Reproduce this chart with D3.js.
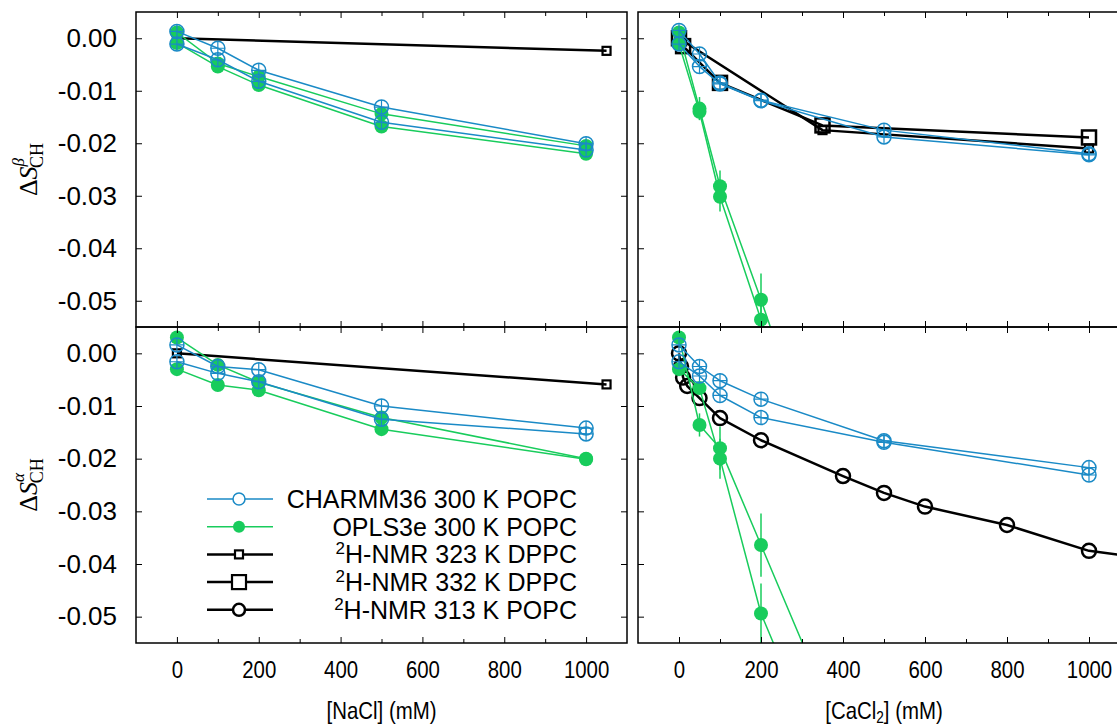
<!DOCTYPE html>
<html>
<head>
<meta charset="utf-8">
<script src="https://cdn.jsdelivr.net/npm/d3@7"></script>
<style>
  body { margin: 0; background: #fff; }
  svg { display: block; font-family: "Liberation Sans", Arial, sans-serif; }
</style>
</head>
<body>
<svg id="chart" width="1117" height="726"></svg>
<script>
// ---- data ----
const naclConc = [0, 100, 200, 500, 1000];
const caConc = [0, 50, 100, 200, 500, 1000];
const caOplsConc = [0, 50, 100, 200, 500];
const dppcNaclConc = [0, 1050];
const dppc323CaConc = [0, 350, 1000];
const dppc332CaConc = [0, 10, 100, 350, 1000];
const popcCaConc = [0, 5, 10, 20, 50, 100, 200, 400, 500, 600, 800, 1000, 1200];

// beta, NaCl
const charmmBetaNaCl1 = [0.0013, -0.0019, -0.0061, -0.0131, -0.0201];
const charmmBetaNaCl2 = [-0.0011, -0.0041, -0.0082, -0.0160, -0.0213];
const oplsBetaNaCl1 = [0.0011, -0.0048, -0.0073, -0.0144, -0.0205];
const oplsBetaNaCl2 = [-0.0009, -0.0054, -0.0089, -0.0168, -0.0220];
const dppc323BetaNaCl = [0, -0.0024];

// beta, CaCl2
const charmmBetaCa1 = [0.0015, -0.0030, -0.0085, -0.0118, -0.0175, -0.0220];
const charmmBetaCa2 = [-0.0011, -0.0054, -0.0087, -0.0119, -0.0188, -0.0222];
const oplsBetaCa1 = [0.0011, -0.0134, -0.0282, -0.0498, -0.118];
const oplsBetaCa2 = [-0.0011, -0.0140, -0.0302, -0.0536, -0.122];
const oplsBetaCaErr1 = [0, 0.0022, 0.0030, 0.0050, 0];
const oplsBetaCaErr2 = [0, 0.0015, 0.0028, 0.0050, 0];
const dppc323BetaCa = [0, -0.0175, -0.0210];
const dppc332BetaCa = [0, -0.0015, -0.0085, -0.0166, -0.0189];

// alpha, NaCl
const charmmAlphaNaCl1 = [0.0016, -0.0025, -0.0031, -0.0100, -0.0142];
const charmmAlphaNaCl2 = [-0.0016, -0.0038, -0.0054, -0.0125, -0.0153];
const oplsAlphaNaCl1 = [0.0030, -0.0022, -0.0055, -0.0122, -0.0200];
const oplsAlphaNaCl2 = [-0.0030, -0.0060, -0.0070, -0.0144, -0.0201];
const dppc323AlphaNaCl = [0, -0.0059];

// alpha, CaCl2
const charmmAlphaCa1 = [0.0016, -0.0025, -0.0052, -0.0087, -0.0166, -0.0217];
const charmmAlphaCa2 = [-0.0016, -0.0043, -0.0080, -0.0122, -0.0169, -0.0231];
const oplsAlphaCa1 = [0.0030, -0.0136, -0.0180, -0.0364, -0.0916];
const oplsAlphaCa2 = [-0.0030, -0.0066, -0.0200, -0.0494, -0.105];
const oplsAlphaCaErr1 = [0, 0.0022, 0.0041, 0.0060, 0];
const oplsAlphaCaErr2 = [0, 0.0008, 0.0038, 0.0057, 0];
const popcAlphaCa = [0, -0.0025, -0.0046, -0.0062, -0.0085, -0.0123, -0.0165,
                     -0.0233, -0.0265, -0.0291, -0.0326, -0.0375, -0.0395];

const xMajorTicks = [0, 200, 400, 600, 800, 1000];
const xMinorTicks = [100, 300, 500, 700, 900];
const yTickValues = [0, -0.01, -0.02, -0.03, -0.04, -0.05];

const legendLabels = [
  ["", "CHARMM36 300 K POPC"],
  ["", "OPLS3e 300 K POPC"],
  ["2", "H-NMR 323 K DPPC"],
  ["2", "H-NMR 332 K DPPC"],
  ["2", "H-NMR 313 K POPC"]
];
const legendTypes = ["charmm", "opls", "nmr323", "nmr332", "popc"];

// ---- styles ----
const blue = "#1a8ac6";
const green = "#18cc5c";

const svg = d3.select("#chart");

const cols = [{ x0: 136, x1: 627 }, { x0: 638, x1: 1130 }];
const rows = [{ y0: 12, y1: 327 }, { y0: 327, y1: 643 }];

function s(x, y, type, err) {
  return { x, y, type, err };
}

const panels = [
  { col: 0, row: 0, series: [
      s(dppcNaclConc, dppc323BetaNaCl, "nmr323"),
      s(naclConc, oplsBetaNaCl1, "opls"), s(naclConc, oplsBetaNaCl2, "opls"),
      s(naclConc, charmmBetaNaCl1, "charmm"), s(naclConc, charmmBetaNaCl2, "charmm") ] },
  { col: 1, row: 0, series: [
      s(dppc323CaConc, dppc323BetaCa, "nmr323"), s(dppc332CaConc, dppc332BetaCa, "nmr332"),
      s(caOplsConc, oplsBetaCa1, "opls", oplsBetaCaErr1), s(caOplsConc, oplsBetaCa2, "opls", oplsBetaCaErr2),
      s(caConc, charmmBetaCa1, "charmm"), s(caConc, charmmBetaCa2, "charmm") ] },
  { col: 0, row: 1, series: [
      s(dppcNaclConc, dppc323AlphaNaCl, "nmr323"),
      s(naclConc, oplsAlphaNaCl1, "opls"), s(naclConc, oplsAlphaNaCl2, "opls"),
      s(naclConc, charmmAlphaNaCl1, "charmm"), s(naclConc, charmmAlphaNaCl2, "charmm") ] },
  { col: 1, row: 1, series: [
      s(popcCaConc, popcAlphaCa, "popc"),
      s(caOplsConc, oplsAlphaCa1, "opls", oplsAlphaCaErr1), s(caOplsConc, oplsAlphaCa2, "opls", oplsAlphaCaErr2),
      s(caConc, charmmAlphaCa1, "charmm"), s(caConc, charmmAlphaCa2, "charmm") ] }
];

const lineStyle = {
  charmm: { color: blue, width: 1.5 },
  opls: { color: green, width: 1.5 },
  nmr323: { color: "#000", width: 2.5 },
  nmr332: { color: "#000", width: 2.5 },
  popc: { color: "#000", width: 2.5 }
};

function drawMarker(g, type, cx, cy) {
  if (type === "charmm") {
    g.append("circle").attr("cx", cx).attr("cy", cy).attr("r", 7)
      .attr("fill", "none").attr("stroke", blue).attr("stroke-width", 1.5);
  } else if (type === "opls") {
    g.append("circle").attr("cx", cx).attr("cy", cy).attr("r", 7).attr("fill", green);
  } else if (type === "nmr323") {
    g.append("rect").attr("x", cx - 4).attr("y", cy - 4).attr("width", 8).attr("height", 8)
      .attr("fill", "none").attr("stroke", "#000").attr("stroke-width", 2.2);
  } else if (type === "nmr332") {
    g.append("rect").attr("x", cx - 7).attr("y", cy - 7).attr("width", 14).attr("height", 14)
      .attr("fill", "none").attr("stroke", "#000").attr("stroke-width", 2.5);
  } else if (type === "popc") {
    g.append("circle").attr("cx", cx).attr("cy", cy).attr("r", 7)
      .attr("fill", "none").attr("stroke", "#000").attr("stroke-width", 2.5);
  }
}

panels.forEach((p, i) => {
  const c = cols[p.col], r = rows[p.row];
  const x = d3.scaleLinear().domain([-100, 1100]).range([c.x0, c.x1]);
  const y = d3.scaleLinear().domain([-0.055, 0.005]).range([r.y1, r.y0]);

  svg.append("clipPath").attr("id", "clip" + i)
    .append("rect").attr("x", c.x0).attr("y", r.y0)
    .attr("width", c.x1 - c.x0).attr("height", r.y1 - r.y0);

  const g = svg.append("g").attr("clip-path", `url(#clip${i})`);
  const line = d3.line().x(d => x(d[0])).y(d => y(d[1]));

  p.series.forEach(se => {
    const pts = se.x.map((v, k) => [v, se.y[k]]);
    const st = lineStyle[se.type];
    g.append("path").datum(pts).attr("d", line)
      .attr("fill", "none").attr("stroke", st.color).attr("stroke-width", st.width)
      .attr("stroke-linejoin", "round");
    if (se.err) {
      pts.forEach((d, k) => {
        if (se.err[k] > 0) {
          g.append("line").attr("x1", x(d[0])).attr("x2", x(d[0]))
            .attr("y1", y(d[1] + se.err[k])).attr("y2", y(d[1] - se.err[k]))
            .attr("stroke", green).attr("stroke-width", 1.5);
        }
      });
    }
    pts.forEach(d => {
      const cx = x(d[0]), cy = y(d[1]);
      drawMarker(g, se.type, cx, cy);
      if (se.type === "charmm") {
        g.append("path").attr("d", `M${cx - 7},${cy}H${cx + 7}M${cx},${cy - 7}V${cy + 7}`)
          .attr("stroke", blue).attr("stroke-width", 1.2);
      }
    });
  });

  // axes: inward ticks on all four sides
  const fmtY = v => d3.format(".2f")(v).replace("\u2212", "-");
  const bottom = svg.append("g").attr("transform", `translate(0,${r.y1})`)
    .call(d3.axisBottom(x).tickValues(xMajorTicks).tickSize(-6).tickPadding(18)
      .tickFormat(p.row === 1 ? d3.format("d") : ""));
  const left = svg.append("g").attr("transform", `translate(${c.x0},0)`)
    .call(d3.axisLeft(y).tickValues(yTickValues).tickSize(-6).tickPadding(19)
      .tickFormat(p.col === 0 ? fmtY : ""));
  const axes = [
    bottom, left,
    svg.append("g").attr("transform", `translate(0,${r.y1})`)
      .call(d3.axisBottom(x).tickValues(xMinorTicks).tickSize(-4).tickFormat("")),
    svg.append("g").attr("transform", `translate(0,${r.y0})`)
      .call(d3.axisTop(x).tickValues(xMajorTicks).tickSize(-6).tickFormat("")),
    svg.append("g").attr("transform", `translate(0,${r.y0})`)
      .call(d3.axisTop(x).tickValues(xMinorTicks).tickSize(-4).tickFormat("")),
    svg.append("g").attr("transform", `translate(${c.x1},0)`)
      .call(d3.axisRight(y).tickValues(yTickValues).tickSize(-6).tickFormat(""))
  ];
  axes.forEach(a => {
    a.select(".domain").remove();
    a.selectAll("line").attr("stroke", "#000").attr("stroke-width", 1);
    a.selectAll("text").attr("fill", "#000")
      .style("font-family", "'Liberation Sans', Arial, sans-serif").style("font-size", "24px");
    a.attr("font-size", null).attr("font-family", null);
  });
  left.selectAll("text").style("font-size", "26px");
  // the x tick labels are a little condensed in the reference
  bottom.selectAll("text").attr("transform", "scale(0.85,1)");

  svg.append("rect").attr("x", c.x0).attr("y", r.y0)
    .attr("width", c.x1 - c.x0).attr("height", r.y1 - r.y0)
    .attr("fill", "none").attr("stroke", "#000").attr("stroke-width", 1.5);
});

// y axis titles
function yTitle(cy, sup) {
  const t = svg.append("text")
    .attr("transform", `translate(37,${cy}) rotate(-90)`)
    .attr("text-anchor", "middle")
    .style("font-family", "'Liberation Serif', 'Times New Roman', serif")
    .style("font-size", "26px");
  t.append("tspan").text("\u0394");
  t.append("tspan").style("font-style", "italic").text("S");
  t.append("tspan").style("font-style", "italic").style("font-size", "17px").attr("dy", -13).text(sup);
  t.append("tspan").style("font-size", "18px").attr("dx", -10).attr("dy", 19).text("CH");
}
yTitle((rows[0].y0 + rows[0].y1) / 2, "\u03B2");
yTitle((rows[1].y0 + rows[1].y1) / 2, "\u03B1");

// x axis titles (condensed like the reference)
svg.append("text")
  .attr("transform", `translate(${(cols[0].x0 + cols[0].x1) / 2},719) scale(0.85,1)`)
  .attr("text-anchor", "middle").style("font-size", "24px").text("[NaCl] (mM)");
const caTitle = svg.append("text")
  .attr("transform", "translate(884,719) scale(0.85,1)")
  .attr("text-anchor", "middle").style("font-size", "24px");
caTitle.append("tspan").text("[CaCl");
caTitle.append("tspan").style("font-size", "16px").attr("dy", 4).text("2");
caTitle.append("tspan").attr("dy", -4).text("] (mM)");

// legend
const legend = svg.append("g");
legendTypes.forEach((type, k) => {
  const ly = 499 + k * 27.7;
  const st = lineStyle[type];
  legend.append("line").attr("x1", 207).attr("x2", 273).attr("y1", ly).attr("y2", ly)
    .attr("stroke", st.color).attr("stroke-width", st.width);
  if (type === "charmm" || type === "opls" || type === "popc") {
    legend.append("circle").attr("cx", 239).attr("cy", ly).attr("r", 6)
      .attr("fill", type === "opls" ? green : "#fff")
      .attr("stroke", type === "opls" ? "none" : st.color)
      .attr("stroke-width", type === "popc" ? 2.5 : 1.5);
  } else {
    const h = type === "nmr323" ? 4 : 7;
    legend.append("rect").attr("x", 239 - h).attr("y", ly - h).attr("width", 2 * h).attr("height", 2 * h)
      .attr("fill", "#fff").attr("stroke", "#000").attr("stroke-width", 2.2);
  }
  const t = legend.append("text").attr("x", 577).attr("y", ly + 9)
    .attr("text-anchor", "end").style("font-size", "25px");
  if (legendLabels[k][0]) {
    t.append("tspan").style("font-size", "17px").attr("dy", -9).text(legendLabels[k][0]);
    t.append("tspan").attr("dy", 9).text(legendLabels[k][1]);
  } else {
    t.text(legendLabels[k][1]);
  }
});
</script>
</body>
</html>
